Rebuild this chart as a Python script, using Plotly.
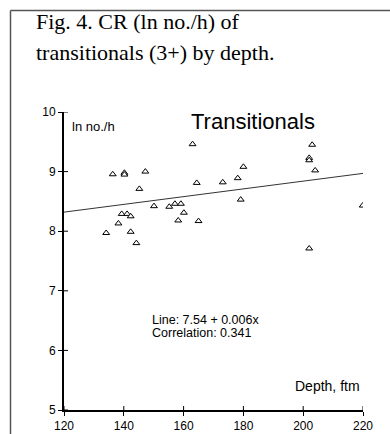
import plotly.graph_objects as go

# ---- data ----
depth = [134.1, 136.3, 138.2, 139.3, 140.2, 140.2, 141.1, 142.3, 142.3, 144.2,
         145.2, 147.2, 150.1, 155.2, 157.1, 158.2, 159.1, 160.1, 163.0, 164.4,
         165.0, 173.1, 178.1, 179.1, 180.0, 202.0, 202.0, 203.0, 204.0, 202.0,
         219.9]
ln_cr = [7.97, 8.955, 8.13, 8.29, 8.98, 8.95, 8.29, 8.25, 7.99, 7.80,
         8.71, 9.00, 8.42, 8.41, 8.46, 8.18, 8.46, 8.31, 9.46, 8.81,
         8.17, 8.82, 8.89, 8.53, 9.08, 9.23, 9.19, 9.45, 9.02, 7.71,
         8.43]
fit_intercept = 7.54
fit_slope = 0.0065
fit_x = [120, 220]
x_ticks = [120, 140, 160, 180, 200, 220]
y_ticks = [5, 6, 7, 8, 9, 10]

W, H = 390, 434
ML, MR, MT, MB = 64, 27, 112, 24
PW, PH = W - ML - MR, H - MT - MB

def px(X):
    return (X - ML) / PW

def py(Y):
    return (H - MB - Y) / PH

fig = go.Figure()
fig.add_trace(go.Scatter(
    x=fit_x, y=[fit_intercept + fit_slope * v for v in fit_x],
    mode="lines", line=dict(color="#333333", width=1), hoverinfo="skip"))
fig.add_trace(go.Scatter(
    x=depth, y=ln_cr, mode="markers",
    marker=dict(symbol="triangle-up", size=6, color="white",
                line=dict(color="black", width=1))))

shapes = []
for t in x_ticks:
    shapes.append(dict(type="line", xref="x", yref="y", x0=t, x1=t,
                       ysizemode="pixel", yanchor=5, y0=0, y1=4,
                       line=dict(color="black", width=1)))
for t in y_ticks:
    shapes.append(dict(type="line", xref="x", yref="y", y0=t, y1=t,
                       xsizemode="pixel", xanchor=120, x0=0, x1=4,
                       line=dict(color="black", width=1)))
# slide frame
shapes.append(dict(type="line", xref="paper", yref="paper",
                   x0=px(10.5), x1=px(400), y0=py(10.5), y1=py(10.5),
                   line=dict(color="#555555", width=1.5)))
shapes.append(dict(type="line", xref="paper", yref="paper",
                   x0=px(10.5), x1=px(10.5), y0=py(10.5), y1=py(445),
                   line=dict(color="#555555", width=1.5)))

ann = []
serif = dict(family="Liberation Serif, Times New Roman, serif", size=22, color="black")
sans = "Liberation Sans, Arial, sans-serif"
ann.append(dict(text="Fig. 4. CR (ln no./h) of", xref="paper", yref="paper",
                x=px(34), y=py(21), xanchor="left", yanchor="middle",
                showarrow=False, font=serif))
ann.append(dict(text="transitionals (3+) by depth.", xref="paper", yref="paper",
                x=px(34), y=py(53), xanchor="left", yanchor="middle",
                showarrow=False, font=serif))
ann.append(dict(text="Transitionals", xref="paper", yref="paper",
                x=px(189), y=py(122), xanchor="left", yanchor="middle",
                showarrow=False, font=dict(family=sans, size=22, color="black")))
ann.append(dict(text="ln no./h", xref="paper", yref="paper",
                x=px(70), y=py(126), xanchor="left", yanchor="middle",
                showarrow=False, font=dict(family=sans, size=13, color="black")))
ann.append(dict(text="Line: 7.54 + 0.006x", xref="paper", yref="paper",
                x=px(150), y=py(320), xanchor="left", yanchor="middle",
                showarrow=False, font=dict(family=sans, size=12.5, color="black")))
ann.append(dict(text="Correlation: 0.341", xref="paper", yref="paper",
                x=px(150), y=py(333), xanchor="left", yanchor="middle",
                showarrow=False, font=dict(family=sans, size=12.5, color="black")))
ann.append(dict(text="Depth, ftm", xref="paper", yref="paper",
                x=px(362), y=py(386), xanchor="right", yanchor="middle",
                showarrow=False, font=dict(family=sans, size=14, color="black")))

fig.update_layout(
    width=W, height=H, margin=dict(l=ML, r=MR, t=MT, b=MB, autoexpand=False),
    paper_bgcolor="white", plot_bgcolor="white", showlegend=False,
    shapes=shapes, annotations=ann,
    xaxis=dict(range=[120, 220], tickvals=x_ticks, ticks="outside", ticklen=4,
               tickcolor="black", showline=True, linecolor="black", linewidth=2,
               showgrid=False, zeroline=False, automargin=False,
               tickfont=dict(family=sans, size=12, color="black")),
    yaxis=dict(range=[5, 10], tickvals=y_ticks, ticks="outside", ticklen=4,
               tickcolor="black", showline=True, linecolor="black", linewidth=2,
               showgrid=False, zeroline=False, automargin=False,
               tickfont=dict(family=sans, size=12, color="black")),
)
fig.write_html("out.html", config={"displayModeBar": False},
               post_script="document.body.style.margin='0px';document.body.style.overflow='hidden';")
